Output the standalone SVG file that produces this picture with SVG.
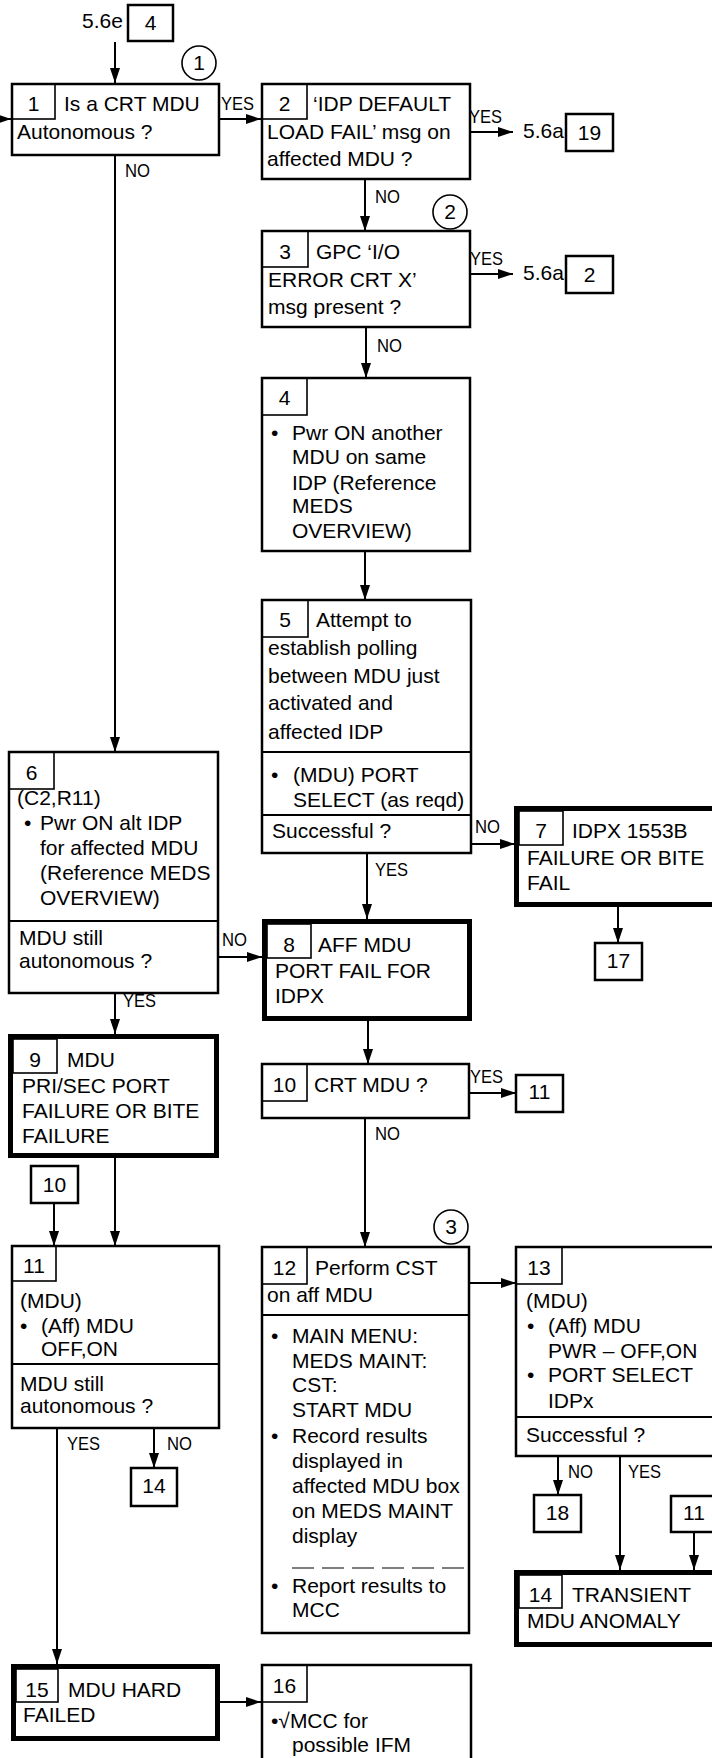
<svg xmlns="http://www.w3.org/2000/svg" width="712" height="1758" viewBox="0 0 712 1758">
<style>
text{font-family:"Liberation Sans",Arial,sans-serif;font-size:21px;fill:#000}
.c{text-anchor:middle}
.lbl{font-size:19px}
.box{fill:#fff;stroke:#000;stroke-width:2.5}
.thick{fill:#fff;stroke:#000;stroke-width:5}
.tag{fill:none;stroke:#000;stroke-width:1.6}
.div{stroke:#000;stroke-width:2.2}
.circ{fill:#fff;stroke:#000;stroke-width:1.6}
.ln{stroke:#000;stroke-width:2;fill:none}
.arr{stroke:#000;stroke-width:2;fill:none;marker-end:url(#ah)}
</style>
<defs>
<marker id="ah" markerUnits="userSpaceOnUse" markerWidth="15" markerHeight="10" refX="15" refY="5" orient="auto">
<path d="M0,0 L15,5 L0,10 z" fill="#000"/>
</marker>
</defs>
<rect width="712" height="1758" fill="#fff"/>

<g id="connectors">
<line class="arr" x1="115" y1="42" x2="115" y2="83"/>
<line class="arr" x1="-5" y1="119" x2="11" y2="119"/>
<line class="arr" x1="219" y1="119" x2="261" y2="119"/>
<line class="arr" x1="470" y1="132" x2="513" y2="132"/>
<line class="arr" x1="365" y1="179" x2="365" y2="231"/>
<line class="arr" x1="470" y1="274" x2="513" y2="274"/>
<line class="arr" x1="366" y1="327" x2="366" y2="378"/>
<line class="arr" x1="365" y1="551" x2="365" y2="600"/>
<line class="arr" x1="471" y1="844" x2="515" y2="844"/>
<line class="arr" x1="618" y1="907" x2="618" y2="943"/>
<line class="arr" x1="367" y1="853" x2="367" y2="919"/>
<line class="arr" x1="115" y1="155" x2="115" y2="752"/>
<line class="arr" x1="218" y1="957" x2="262" y2="957"/>
<line class="arr" x1="115" y1="993" x2="115" y2="1034"/>
<line class="arr" x1="54" y1="1203" x2="54" y2="1246"/>
<line class="arr" x1="115" y1="1158" x2="115" y2="1246"/>
<line class="arr" x1="57" y1="1428" x2="57" y2="1664"/>
<line class="arr" x1="154" y1="1428" x2="154" y2="1468"/>
<line class="arr" x1="220" y1="1702" x2="261" y2="1702"/>
<line class="arr" x1="368" y1="1021" x2="368" y2="1064"/>
<line class="arr" x1="469" y1="1093" x2="516" y2="1093"/>
<line class="arr" x1="365" y1="1118" x2="365" y2="1247"/>
<line class="arr" x1="469" y1="1283" x2="516" y2="1283"/>
<line class="arr" x1="558" y1="1456" x2="558" y2="1495"/>
<line class="arr" x1="620" y1="1456" x2="620" y2="1570"/>
<line class="arr" x1="694" y1="1532" x2="694" y2="1570"/>
<text class="lbl" x="221" y="110" textLength="33" lengthAdjust="spacingAndGlyphs">YES</text>
<text class="lbl" x="125" y="177" textLength="25" lengthAdjust="spacingAndGlyphs">NO</text>
<text class="lbl" x="469" y="123" textLength="33" lengthAdjust="spacingAndGlyphs">YES</text>
<text class="lbl" x="375" y="203" textLength="25" lengthAdjust="spacingAndGlyphs">NO</text>
<text class="lbl" x="470" y="265" textLength="33" lengthAdjust="spacingAndGlyphs">YES</text>
<text class="lbl" x="377" y="352" textLength="25" lengthAdjust="spacingAndGlyphs">NO</text>
<text class="lbl" x="475" y="833" textLength="25" lengthAdjust="spacingAndGlyphs">NO</text>
<text class="lbl" x="375" y="876" textLength="33" lengthAdjust="spacingAndGlyphs">YES</text>
<text class="lbl" x="222" y="946" textLength="25" lengthAdjust="spacingAndGlyphs">NO</text>
<text class="lbl" x="123" y="1007" textLength="33" lengthAdjust="spacingAndGlyphs">YES</text>
<text class="lbl" x="470" y="1083" textLength="33" lengthAdjust="spacingAndGlyphs">YES</text>
<text class="lbl" x="375" y="1140" textLength="25" lengthAdjust="spacingAndGlyphs">NO</text>
<text class="lbl" x="67" y="1450" textLength="33" lengthAdjust="spacingAndGlyphs">YES</text>
<text class="lbl" x="167" y="1450" textLength="25" lengthAdjust="spacingAndGlyphs">NO</text>
<text class="lbl" x="568" y="1478" textLength="25" lengthAdjust="spacingAndGlyphs">NO</text>
<text class="lbl" x="628" y="1478" textLength="33" lengthAdjust="spacingAndGlyphs">YES</text>
</g>

<g id="ref-top">
<text x="82" y="28">5.6e</text>
<rect class="box" x="128" y="5" width="45" height="36"/>
<text class="c" x="150.5" y="30">4</text>
</g>

<g id="circle1"><circle class="circ" cx="199" cy="63" r="17"/><text class="c" x="199" y="70">1</text></g>
<g id="circle2"><circle class="circ" cx="450" cy="212" r="17"/><text class="c" x="450" y="219">2</text></g>
<g id="circle3"><circle class="circ" cx="451" cy="1227" r="17"/><text class="c" x="451" y="1234">3</text></g>

<g id="node1">
<rect class="box" x="12" y="84" width="207" height="71"/>
<rect class="tag" x="12" y="84" width="43" height="35"/>
<text class="c" x="33.5" y="111">1</text>
<text x="64" y="111">Is a CRT MDU</text>
<text x="17" y="139">Autonomous ?</text>
</g>

<g id="node2">
<rect class="box" x="262" y="84" width="208" height="95"/>
<rect class="tag" x="262" y="84" width="45" height="35"/>
<text class="c" x="284.5" y="111">2</text>
<text x="313" y="111">‘IDP DEFAULT</text>
<text x="267" y="139">LOAD FAIL’ msg on</text>
<text x="267" y="166">affected MDU ?</text>
</g>

<g id="ref-19">
<text x="523" y="138">5.6a</text>
<rect class="box" x="566" y="114" width="47" height="37"/>
<text class="c" x="589.5" y="140">19</text>
</g>

<g id="node3">
<rect class="box" x="262" y="231" width="208" height="96"/>
<rect class="tag" x="262" y="231" width="46" height="36"/>
<text class="c" x="285" y="259">3</text>
<text x="316" y="259">GPC ‘I/O</text>
<text x="268" y="287">ERROR CRT X’</text>
<text x="268" y="314">msg present ?</text>
</g>

<g id="ref-2">
<text x="523" y="280">5.6a</text>
<rect class="box" x="566" y="256" width="47" height="37"/>
<text class="c" x="589.5" y="282">2</text>
</g>

<g id="node4">
<rect class="box" x="262" y="378" width="208" height="173"/>
<rect class="tag" x="262" y="378" width="45" height="37"/>
<text class="c" x="284.5" y="405">4</text>
<text x="271" y="440">•</text>
<text x="292" y="440">Pwr ON another</text>
<text x="292" y="464">MDU on same</text>
<text x="292" y="490">IDP (Reference</text>
<text x="292" y="513">MEDS</text>
<text x="292" y="538">OVERVIEW)</text>
</g>

<g id="node5">
<rect class="box" x="262" y="600" width="209" height="253"/>
<rect class="tag" x="262" y="600" width="46" height="37"/>
<text class="c" x="285" y="627">5</text>
<text x="316" y="627">Attempt to</text>
<text x="268" y="655">establish polling</text>
<text x="268" y="683">between MDU just</text>
<text x="268" y="710">activated and</text>
<text x="268" y="739">affected IDP</text>
<line class="div" x1="262" y1="752" x2="471" y2="752"/>
<text x="271" y="782">•</text>
<text x="293" y="782">(MDU) PORT</text>
<text x="293" y="807">SELECT (as reqd)</text>
<line class="div" x1="262" y1="815" x2="471" y2="815"/>
<text x="272" y="838">Successful ?</text>
</g>

<g id="node7">
<rect class="thick" x="516.5" y="808.5" width="200" height="96"/>
<rect class="tag" x="519" y="811" width="44" height="34"/>
<text class="c" x="541" y="838">7</text>
<text x="572" y="838">IDPX 1553B</text>
<text x="527" y="865">FAILURE OR BITE</text>
<text x="527" y="890">FAIL</text>
</g>

<g id="ref-17">
<rect class="box" x="595" y="943" width="47" height="37"/>
<text class="c" x="618.5" y="968">17</text>
</g>

<g id="node6">
<rect class="box" x="9" y="752" width="209" height="241"/>
<rect class="tag" x="9" y="752" width="45" height="37"/>
<text class="c" x="31.5" y="780">6</text>
<text x="17" y="805">(C2,R11)</text>
<text x="24" y="830">•</text>
<text x="40" y="830">Pwr ON alt IDP</text>
<text x="40" y="855">for affected MDU</text>
<text x="40" y="880">(Reference MEDS</text>
<text x="40" y="905">OVERVIEW)</text>
<line class="div" x1="9" y1="921" x2="218" y2="921"/>
<text x="19" y="945">MDU still</text>
<text x="19" y="968">autonomous ?</text>
</g>

<g id="node8">
<rect class="thick" x="264.5" y="921.5" width="205" height="97"/>
<rect class="tag" x="267" y="924" width="44" height="34"/>
<text class="c" x="289" y="952">8</text>
<text x="318" y="952">AFF MDU</text>
<text x="275" y="978">PORT FAIL FOR</text>
<text x="275" y="1003">IDPX</text>
</g>

<g id="node9">
<rect class="thick" x="10.5" y="1036.5" width="206" height="119"/>
<rect class="tag" x="13" y="1039" width="44" height="34"/>
<text class="c" x="35" y="1067">9</text>
<text x="67" y="1067">MDU</text>
<text x="22" y="1093">PRI/SEC PORT</text>
<text x="22" y="1118">FAILURE OR BITE</text>
<text x="22" y="1143">FAILURE</text>
</g>

<g id="ref-10">
<rect class="box" x="31" y="1166" width="47" height="37"/>
<text class="c" x="54.5" y="1192">10</text>
</g>

<g id="node10">
<rect class="box" x="262" y="1064" width="207" height="54"/>
<rect class="tag" x="262" y="1064" width="45" height="37"/>
<text class="c" x="284.5" y="1092">10</text>
<text x="314" y="1092">CRT MDU ?</text>
</g>

<g id="ref-11a">
<rect class="box" x="516" y="1075" width="47" height="37"/>
<text class="c" x="539.5" y="1099">11</text>
</g>

<g id="node11">
<rect class="box" x="12" y="1246" width="207" height="182"/>
<rect class="tag" x="12" y="1246" width="44" height="35"/>
<text class="c" x="34" y="1273">11</text>
<text x="20" y="1308">(MDU)</text>
<text x="20" y="1333">•</text>
<text x="41" y="1333">(Aff) MDU</text>
<text x="41" y="1356">OFF,ON</text>
<line class="div" x1="12" y1="1364" x2="219" y2="1364"/>
<text x="20" y="1391">MDU still</text>
<text x="20" y="1413">autonomous ?</text>
</g>

<g id="ref-14">
<rect class="box" x="131" y="1468" width="46" height="38"/>
<text class="c" x="154" y="1493">14</text>
</g>

<g id="node12">
<rect class="box" x="262" y="1247" width="207" height="386"/>
<rect class="tag" x="262" y="1247" width="45" height="37"/>
<text class="c" x="284.5" y="1275">12</text>
<text x="315" y="1275">Perform CST</text>
<text x="267" y="1302">on aff MDU</text>
<line class="div" x1="262" y1="1315" x2="469" y2="1315"/>
<text x="271" y="1343">•</text>
<text x="292" y="1343">MAIN MENU:</text>
<text x="292" y="1368">MEDS MAINT:</text>
<text x="292" y="1392">CST:</text>
<text x="292" y="1417">START MDU</text>
<text x="271" y="1443">•</text>
<text x="292" y="1443">Record results</text>
<text x="292" y="1468">displayed in</text>
<text x="292" y="1493">affected MDU box</text>
<text x="292" y="1518">on MEDS MAINT</text>
<text x="292" y="1543">display</text>
<line x1="292" y1="1568" x2="464" y2="1568" stroke="#000" stroke-width="1.2" stroke-dasharray="22,8"/>
<text x="271" y="1593">•</text>
<text x="292" y="1593">Report results to</text>
<text x="292" y="1617">MCC</text>
</g>

<g id="node13">
<rect class="box" x="516" y="1247" width="210" height="209"/>
<rect class="tag" x="516" y="1247" width="46" height="37"/>
<text class="c" x="539" y="1275">13</text>
<text x="526" y="1308">(MDU)</text>
<text x="527" y="1333">•</text>
<text x="548" y="1333">(Aff) MDU</text>
<text x="548" y="1358">PWR – OFF,ON</text>
<text x="527" y="1382">•</text>
<text x="548" y="1382">PORT SELECT</text>
<text x="548" y="1408">IDPx</text>
<line class="div" x1="516" y1="1417" x2="726" y2="1417"/>
<text x="526" y="1442">Successful ?</text>
</g>

<g id="ref-18">
<rect class="box" x="534" y="1495" width="47" height="37"/>
<text class="c" x="557.5" y="1520">18</text>
</g>

<g id="ref-11b">
<rect class="box" x="671" y="1496" width="47" height="36"/>
<text class="c" x="694" y="1520">11</text>
</g>

<g id="node14">
<rect class="thick" x="516.5" y="1572.5" width="210" height="72"/>
<rect class="tag" x="519" y="1575" width="43" height="33"/>
<text class="c" x="540.5" y="1602">14</text>
<text x="572" y="1602">TRANSIENT</text>
<text x="527" y="1628">MDU ANOMALY</text>
</g>

<g id="node15">
<rect class="thick" x="13.5" y="1666.5" width="204" height="72"/>
<rect class="tag" x="16" y="1669" width="42" height="33"/>
<text class="c" x="37" y="1697">15</text>
<text x="68" y="1697">MDU HARD</text>
<text x="23" y="1722">FAILED</text>
</g>

<g id="node16">
<rect class="box" x="262" y="1665" width="209" height="110"/>
<rect class="tag" x="262" y="1665" width="45" height="37"/>
<text class="c" x="284.5" y="1693">16</text>
<text x="271" y="1728">•√MCC for</text>
<text x="292" y="1752">possible IFM</text>
</g>
</svg>
